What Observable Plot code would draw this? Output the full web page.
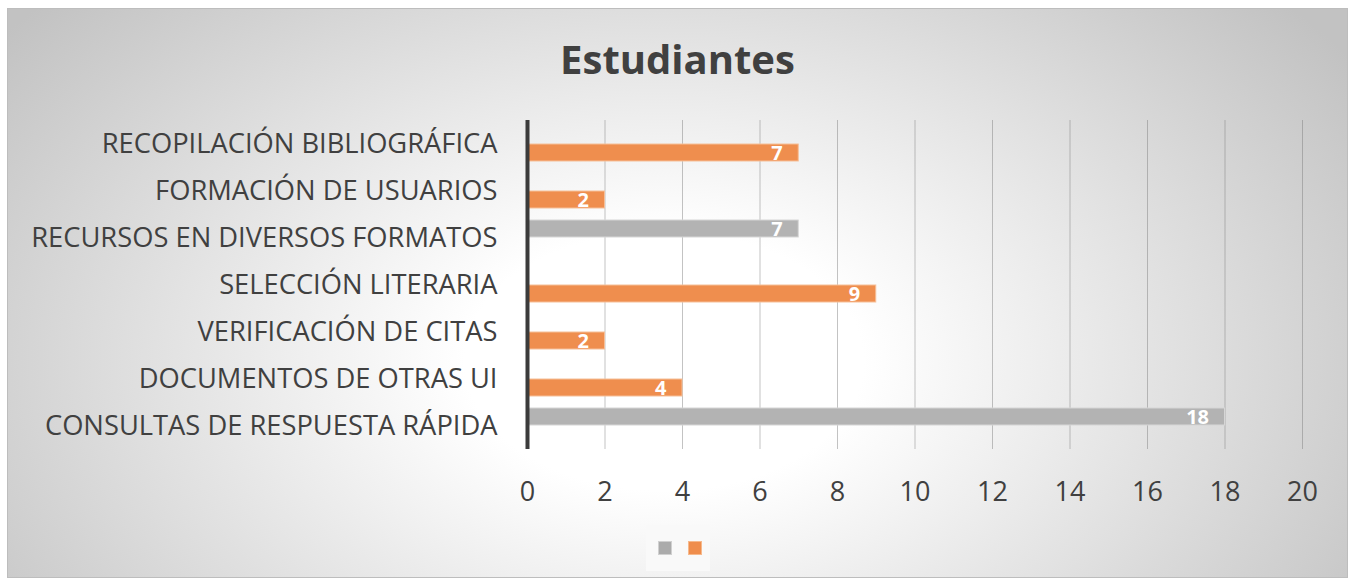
<!DOCTYPE html>
<html><head><meta charset="utf-8">
<script src="https://cdn.jsdelivr.net/npm/d3@7"></script>
<script src="https://cdn.jsdelivr.net/npm/@observablehq/plot@0.6"></script>
<style>
body{margin:0;width:1355px;height:580px;position:relative;background:#fff;overflow:hidden;font-family:"Open Sans",sans-serif;}
#frame{position:absolute;left:7px;top:8px;width:1341px;height:570px;box-sizing:border-box;border:1px solid #bdbdbd;
 background:radial-gradient(ellipse 62% 95% at 49% 62%, #ffffff 0%, #ffffff 24%, #c2c2c2 100%);}
#title{position:absolute;left:7px;width:1341px;top:39px;line-height:40px;text-align:center;font-weight:700;font-size:40px;color:#404040;}
#chart{position:absolute;left:0;top:100px;}
#legend{position:absolute;left:646px;top:525px;width:64px;height:46px;background:#f9f9f9;}
.sw{position:absolute;top:16px;width:14px;height:14px;box-sizing:border-box;border:1.5px solid;}
</style>
</head><body>
<div id="frame"></div>
<div id="title">Estudiantes</div>
<div id="chart"></div>
<div id="legend"><div class="sw" style="left:12px;background:#ababab;border-color:#d0d0d0"></div><div class="sw" style="left:42px;background:#ef8d4c;border-color:#f6b98c"></div></div>
<script>
const categories = [
  "RECOPILACIÓN BIBLIOGRÁFICA",
  "FORMACIÓN DE USUARIOS",
  "RECURSOS EN DIVERSOS FORMATOS",
  "SELECCIÓN LITERARIA",
  "VERIFICACIÓN DE CITAS",
  "DOCUMENTOS DE OTRAS UI",
  "CONSULTAS DE RESPUESTA RÁPIDA"
];
const grayValues = [null, null, 7, null, null, null, 18];
const orangeValues = [7, 2, null, 9, 2, 4, null];
const xTicks = [0, 2, 4, 6, 8, 10, 12, 14, 16, 18, 20];

const grayRows = categories.map((c, i) => ({cat: c, value: grayValues[i]})).filter(d => d.value != null);
const orangeRows = categories.map((c, i) => ({cat: c, value: orangeValues[i]})).filter(d => d.value != null);

const chart = Plot.plot({
  width: 1355, height: 400,
  marginLeft: 527, marginRight: 53, marginTop: 20, marginBottom: 51,
  style: {background: "transparent", fontFamily: "Open Sans", overflow: "visible"},
  x: {domain: [0, 20]},
  y: {domain: categories, paddingInner: 30/47, paddingOuter: 15/47},
  marks: [
    Plot.ruleX(xTicks.filter(t => t > 0), {stroke: "#7a7a7a", strokeOpacity: 0.45, strokeWidth: 1}),
    Plot.barX(grayRows, {x: "value", y: "cat", fill: "#b3b3b3", stroke: "#d6d6d6", strokeWidth: 1, dy: -9}),
    Plot.barX(orangeRows, {x: "value", y: "cat", fill: "#ef8e4e", stroke: "#f6bf98", strokeWidth: 1, dy: 9}),
    Plot.text(grayRows, {x: "value", y: "cat", text: d => String(d.value), textAnchor: "end", dx: -16, dy: -8, fill: "white", fontWeight: "bold", fontSize: 20}),
    Plot.text(orangeRows, {x: "value", y: "cat", text: d => String(d.value), textAnchor: "end", dx: -16, dy: 10, fill: "white", fontWeight: "bold", fontSize: 20}),
    Plot.ruleX([0], {stroke: "#3b3b3b", strokeWidth: 4}),
    Plot.axisX({ticks: xTicks, tickSize: 0, tickPadding: 32, fontSize: 27, color: "#404040", tickFormat: d => String(d), label: null}),
    Plot.axisY({tickSize: 0, tickPadding: 30, fontSize: 27.3, color: "#404040", label: null})
  ]
});
document.getElementById("chart").appendChild(chart);
</script>
</body></html>
